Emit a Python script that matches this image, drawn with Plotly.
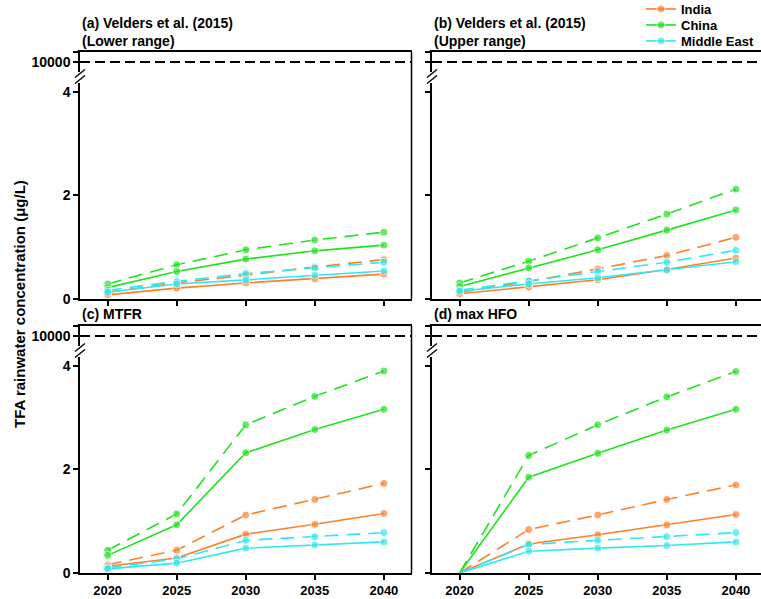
import plotly.graph_objects as go

# ---------------------------------------------------------------- data
YEARS = [2020, 2025, 2030, 2035, 2040]
YTICKS = [0, 2, 4]
THRESHOLD = 10000
COUNTRIES = ["India", "China", "Middle East"]

# (a) Velders et al. (2015), lower range
a_india = [0.08, 0.21, 0.31, 0.39, 0.48]
a_india_dash = [0.13, 0.31, 0.46, 0.62, 0.76]
a_china = [0.22, 0.53, 0.77, 0.93, 1.04]
a_china_dash = [0.29, 0.66, 0.95, 1.14, 1.29]
a_me = [0.13, 0.29, 0.37, 0.46, 0.54]
a_me_dash = [0.17, 0.34, 0.49, 0.60, 0.71]

# (b) Velders et al. (2015), upper range
b_india = [0.10, 0.23, 0.37, 0.57, 0.79]
b_india_dash = [0.13, 0.34, 0.58, 0.84, 1.19]
b_china = [0.24, 0.60, 0.95, 1.33, 1.72]
b_china_dash = [0.31, 0.73, 1.18, 1.64, 2.12]
b_me = [0.15, 0.29, 0.41, 0.56, 0.72]
b_me_dash = [0.17, 0.35, 0.53, 0.71, 0.94]

# (c) MTFR
c_india = [0.13, 0.29, 0.75, 0.94, 1.15]
c_india_dash = [0.16, 0.44, 1.12, 1.42, 1.73]
c_china = [0.34, 0.93, 2.32, 2.77, 3.16]
c_china_dash = [0.44, 1.14, 2.86, 3.41, 3.90]
c_me = [0.08, 0.19, 0.48, 0.54, 0.60]
c_me_dash = [0.10, 0.27, 0.63, 0.70, 0.78]

# (d) max HFO
d_india = [0.0, 0.56, 0.74, 0.93, 1.13]
d_india_dash = [0.0, 0.84, 1.12, 1.42, 1.70]
d_china = [0.0, 1.85, 2.31, 2.76, 3.16]
d_china_dash = [0.0, 2.27, 2.86, 3.40, 3.89]
d_me = [0.0, 0.42, 0.48, 0.53, 0.60]
d_me_dash = [0.0, 0.55, 0.63, 0.70, 0.78]

PANELS = [
    (["(a) Velders et al. (2015)", "(Lower range)"],
     [(a_india, a_india_dash), (a_china, a_china_dash), (a_me, a_me_dash)]),
    (["(b) Velders et al. (2015)", "(Upper range)"],
     [(b_india, b_india_dash), (b_china, b_china_dash), (b_me, b_me_dash)]),
    (["(c) MTFR"],
     [(c_india, c_india_dash), (c_china, c_china_dash), (c_me, c_me_dash)]),
    (["(d) max HFO"],
     [(d_india, d_india_dash), (d_china, d_china_dash), (d_me, d_me_dash)]),
]

# ---------------------------------------------------------------- style
COLORS = {"India": "#FF7F27", "China": "#1EE31E", "Middle East": "#2EE8F2"}
FONT = "Liberation Sans, Arial, Helvetica, sans-serif"
W, H = 761, 599


def fx(p):
    return p / W


def fy(p):
    return 1 - p / H


COLS = [(80, 411.5), (432, 761)]          # left/right edge of each column (px)
ROW_OFF = [0, 274]                         # vertical offset of each row (px)
UP_TOP, UP_BOT, LO_TOP, LO_BOT = 52, 72, 83, 299
PX_PER_UNIT = 51.8
PX_PER_YEAR = 331.5 / 24
X_START = 2018
Y_TOP = (LO_BOT - LO_TOP) / PX_PER_UNIT

tickfont = dict(family=FONT, size=14, color="black", weight="bold")
axis_common = dict(showline=True, linecolor="black", linewidth=1.5,
                   showgrid=False, zeroline=False, tickcolor="black",
                   ticklen=5, tickwidth=1.5, tickfont=tickfont)

fig = go.Figure()
layout = {}
shapes = []
annotations = []

for k, (title_lines, series) in enumerate(PANELS):
    r, c = divmod(k, 2)
    x0, x1 = COLS[c]
    off = ROW_OFF[r]
    iu, il = 2 * k + 1, 2 * k + 2
    xu = "x" if iu == 1 else f"x{iu}"
    yu = "y" if iu == 1 else f"y{iu}"
    xl, yl = f"x{il}", f"y{il}"
    xrange = [X_START, X_START + (x1 - x0) / PX_PER_YEAR]

    # upper (broken) segment holding the 10000 level
    layout[f"xaxis{iu}"] = dict(axis_common, domain=[fx(x0), fx(x1)], range=xrange,
                                anchor=yu, side="top", ticks="", showticklabels=False)
    layout[f"yaxis{iu}"] = dict(axis_common, domain=[fy(off + UP_BOT), fy(off + UP_TOP)],
                                range=[9000, 11000], anchor=xu, ticks="outside",
                                tickvals=[THRESHOLD, 11000],
                                ticktext=[f"{THRESHOLD}", ""],
                                showticklabels=(c == 0))
    # lower segment with the concentrations
    layout[f"xaxis{il}"] = dict(axis_common, domain=[fx(x0), fx(x1)], range=xrange,
                                anchor=yl, ticks="outside", ticklen=5, tickvals=YEARS,
                                tickfont=dict(tickfont, size=13),
                                showticklabels=(r == 1), ticklabelstandoff=0)
    layout[f"yaxis{il}"] = dict(axis_common, domain=[fy(off + LO_BOT), fy(off + LO_TOP)],
                                range=[0, Y_TOP], anchor=xl, ticks="outside",
                                tickvals=YTICKS, showticklabels=(c == 0))

    # 10000 reference line
    shapes.append(dict(type="line", xref=f"{xu} domain", yref=yu, x0=0, x1=1,
                       y0=THRESHOLD, y1=THRESHOLD,
                       line=dict(color="black", width=2, dash="10px,5px")))
    # right frame edge (left column only; right column runs off the page)
    if c == 0:
        shapes.append(dict(type="line", xref="paper", yref="paper",
                           x0=fx(x1), x1=fx(x1), y0=fy(off + LO_BOT), y1=fy(off + UP_TOP),
                           line=dict(color="black", width=1.5)))
    # axis-break marks
    for yc in (off + 73.5, off + 79.5):
        shapes.append(dict(type="line", xref="paper", yref="paper",
                           x0=fx(x0 - 5), x1=fx(x0 + 5), y0=fy(yc + 4), y1=fy(yc - 4),
                           line=dict(color="black", width=1.5)))

    # panel title (last line sits just above the frame)
    n = len(title_lines)
    y_mid = off + 40 - 8 * (n - 1)
    annotations.append(dict(text="<br>".join(title_lines), xref="paper", yref="paper",
                            x=fx(x0), y=fy(y_mid), xanchor="left", yanchor="middle",
                            align="left", showarrow=False,
                            font=dict(family=FONT, size=14, color="black", weight="bold")))

    # data
    for j, (country, (solid, dashed)) in enumerate(zip(COUNTRIES, series)):
        col = COLORS[country]
        for vals, dash, show in ((dashed, "14px,8px", False), (solid, "solid", k == 0)):
            sizes = [0 if v == 0 else 8 for v in vals]
            fig.add_trace(go.Scatter(
                x=YEARS, y=vals, xaxis=xl, yaxis=yl, mode="lines+markers",
                line=dict(color=col, width=1.6, dash=dash),
                marker=dict(color=col, size=sizes),
                name=country, legendgroup=country, showlegend=show,
                legend="legend" if j == 0 else f"legend{j + 1}",
                cliponaxis=False))

annotations.append(dict(text="TFA rainwater concentration (μg/L)", textangle=-90,
                        xref="paper", yref="paper", x=fx(19), y=fy(304),
                        xanchor="center", yanchor="middle", showarrow=False,
                        font=dict(family=FONT, size=15, color="black", weight="bold")))

# one legend box per country so the rows can sit tightly stacked
legend_font = dict(family=FONT, size=13, color="black", weight="bold")
legends = {}
for j in range(len(COUNTRIES)):
    key = "legend" if j == 0 else f"legend{j + 1}"
    legends[key] = dict(x=fx(641), y=fy(-6 + 16 * j), xanchor="left", yanchor="top",
                        bgcolor="rgba(0,0,0,0)", font=legend_font)

fig.update_layout(
    **layout,
    **legends,
    width=W, height=H,
    margin=dict(l=0, r=0, t=0, b=0, autoexpand=False),
    paper_bgcolor="white", plot_bgcolor="white",
    font=dict(family=FONT, size=14, color="black", weight="bold"),
    shapes=shapes, annotations=annotations,
)

fig.write_html("out.html")
